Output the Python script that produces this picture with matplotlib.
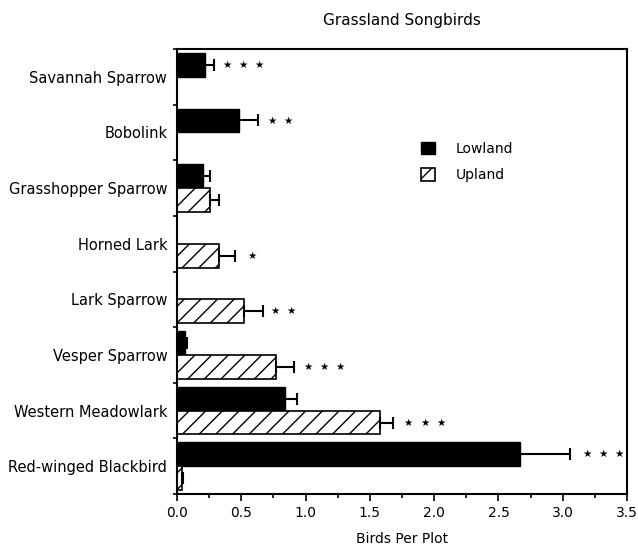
import numpy as np
import matplotlib.pyplot as plt

species = ["Savannah Sparrow", "Bobolink", "Grasshopper Sparrow", "Horned Lark",
           "Lark Sparrow", "Vesper Sparrow", "Western Meadowlark", "Red-winged Blackbird"]
lowland = [0.22, 0.48, 0.20, 0.0, 0.0, 0.06, 0.84, 2.67]
lowland_err = [0.07, 0.15, 0.06, 0.0, 0.0, 0.02, 0.09, 0.39]
upland = [0.0, 0.0, 0.26, 0.33, 0.52, 0.77, 1.58, 0.04]
upland_err = [0.0, 0.0, 0.07, 0.12, 0.15, 0.14, 0.10, 0.01]
# significance stars: (species index, which bar, number of stars, x of first star)
stars = [(0, "low", 3, 0.39), (1, "low", 2, 0.74), (3, "up", 1, 0.58),
         (4, "up", 2, 0.76), (5, "up", 3, 1.02), (6, "up", 3, 1.80),
         (7, "low", 3, 3.19)]

plt.rcParams['font.family'] = 'DejaVu Sans'
fig = plt.figure(figsize=(6.38, 5.52), dpi=100)
ax = fig.add_axes([0.2774, 0.1051, 0.7054, 0.8061])

y = np.arange(len(species))
h = 0.43
low = np.array(lowland)
up = np.array(upland)

mask = low > 0
ax.barh(y[mask] - h / 2, low[mask], height=h, color='black', edgecolor='black',
        linewidth=1, label='Lowland')
ax.errorbar(low[mask], y[mask] - h / 2,
            xerr=[np.zeros(mask.sum()), np.array(lowland_err)[mask]],
            fmt='none', ecolor='black', elinewidth=1.5, capsize=4, capthick=1.5)

mask = up > 0
ax.barh(y[mask] + h / 2, up[mask], height=h, color='white', edgecolor='black',
        hatch='//', linewidth=1.2, label='Upland')
ax.errorbar(up[mask], y[mask] + h / 2,
            xerr=[np.zeros(mask.sum()), np.array(upland_err)[mask]],
            fmt='none', ecolor='black', elinewidth=1.5, capsize=4, capthick=1.5)

step = 0.125
for i, which, n, x0 in stars:
    yy = i - h / 2 if which == "low" else i + h / 2
    for k in range(n):
        ax.text(x0 + k * step, yy, "\u2605", fontsize=7.5, ha='center', va='center')

ax.set_xlim(0, 3.5)
ax.set_ylim(len(species) - 0.5, -0.5)
ax.set_xticks(np.arange(0, 3.51, 0.5))
ax.set_xticklabels([f"{v:.1f}" for v in np.arange(0, 3.51, 0.5)], fontsize=10)
ax.set_xticks(np.arange(0.25, 3.5, 0.5), minor=True)
ax.set_yticks(np.arange(-0.5, len(species), 1.0))
ax.set_yticklabels([])
ax.set_yticks(y, minor=True)
ax.set_yticklabels(species, minor=True, fontsize=10.5)
ax.tick_params(axis='y', which='minor', length=0, pad=7)
ax.tick_params(axis='y', which='major', length=3, width=1.2)
ax.tick_params(axis='x', which='major', length=5, width=1.2)
ax.tick_params(axis='x', which='minor', length=3, width=1.2)
for s in ax.spines.values():
    s.set_linewidth(1.5)

ax.set_xlabel("Birds Per Plot", fontsize=10, labelpad=9)
ax.set_title("Grassland Songbirds", fontsize=11, pad=17)

ax.legend(loc='upper left', bbox_to_anchor=(0.515, 0.82), frameon=False,
          fontsize=10, handlelength=1.0, handleheight=1.0, handletextpad=1.5,
          labelspacing=0.9)

fig.savefig("out.png", dpi=100)
